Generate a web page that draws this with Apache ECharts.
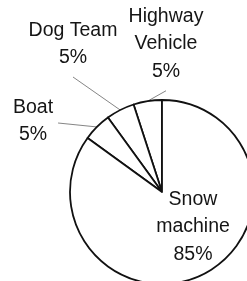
<!DOCTYPE html>
<html>
<head>
<meta charset="utf-8">
<script src="https://cdn.jsdelivr.net/npm/echarts@6/dist/echarts.min.js"></script>
<style>
html,body{margin:0;padding:0;background:#fff;}
#c{width:247px;height:281px;}
</style>
</head>
<body>
<div id="c"></div>
<script>
// Data (order: counter-clockwise from 12 o'clock)
var categories = ['Highway Vehicle', 'Dog Team', 'Boat', 'Snow machine'];
var shares = [5, 5, 5, 85];

// label block centres (layout only)
var labelCentres = [[166, 44], [73, 44], [33, 121], [193, 227]];
var lineEnds = ['bottom', 'bottom', 'right', null];

var chart = echarts.init(document.getElementById('c'), null, {renderer: 'canvas'});

var pieData = categories.map(function (n, i) {
  return {name: n, value: shares[i]};
});

chart.setOption({
  backgroundColor: '#ffffff',
  animation: false,
  series: [{
    type: 'pie',
    center: [162, 192],
    radius: 92,
    startAngle: 90,
    clockwise: false,
    avoidLabelOverlap: false,
    data: pieData,
    itemStyle: {color: '#ffffff', borderColor: '#111111', borderWidth: 1.8},
    emphasis: {disabled: true},
    label: {
      show: true,
      position: 'outside',
      color: '#151515',
      fontFamily: 'Liberation Sans, Arial, sans-serif',
      fontSize: 19.5,
      lineHeight: 27.5,
      align: 'center',
      formatter: function (p) {
        var name = p.name.length > 8 ? p.name.replace(' ', '\n') : p.name;
        return name + '\n' + p.value + '%';
      }
    },
    labelLine: {
      show: true,
      lineStyle: {color: '#666666', width: 0.8}
    },
    labelLayout: function (p) {
      var i = p.dataIndex;
      var c = labelCentres[i];
      var w = p.labelRect.width, h = p.labelRect.height;
      var res = {x: c[0], y: c[1], align: 'center', verticalAlign: 'middle'};
      var a = p.labelLinePoints && p.labelLinePoints[0];
      if (a && lineEnds[i]) {
        var end;
        if (lineEnds[i] === 'bottom') end = [c[0], c[1] + h / 2 + 5.5];
        else end = [c[0] + w / 2 + 5, c[1] + 2];
        res.labelLinePoints = [a, a, end];
      }
      return res;
    }
  }]
});
</script>
</body>
</html>
